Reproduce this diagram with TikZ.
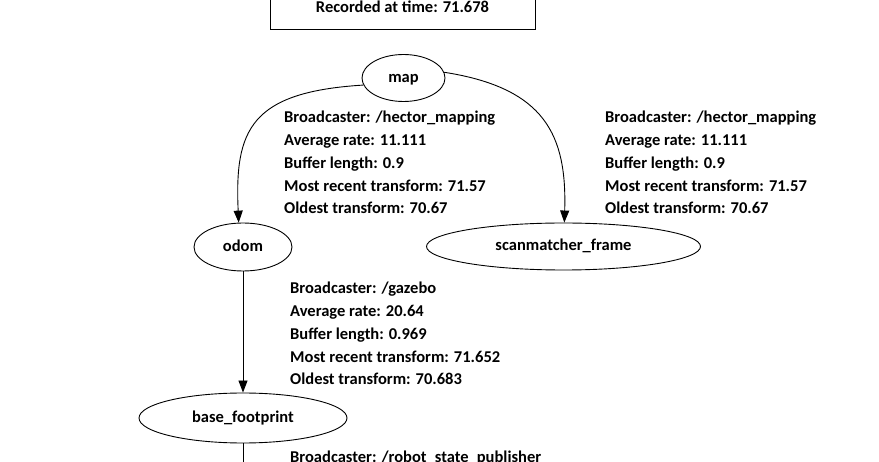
\documentclass[tikz,border=0pt]{standalone}
\usepackage{fontspec}
\setmainfont{Carlito}
\usetikzlibrary{shapes.geometric,arrows.meta}
\begin{document}
\begin{tikzpicture}[x=1pt,y=-1pt,
  frame/.style={ellipse,draw,line width=0.9pt,inner sep=0pt,text height=9pt,text depth=0pt,font=\fontsize{16.5}{19}\selectfont\bfseries},
  info/.style={anchor=north west,align=left,inner sep=0pt,font=\fontsize{16.5}{22.8}\selectfont\bfseries},
  tfedge/.style={line width=0.9pt,-{Triangle[length=12pt,width=9pt]}},
  plain/.style={line width=0.9pt}]
\useasboundingbox (0,0) rectangle (879,462);
\clip (0,0) rectangle (879,462);
\fill[white] (0,0) rectangle (879,462);
\node[draw,line width=0.9pt,minimum width=265pt,minimum height=46pt,anchor=south,inner sep=0pt,font=\fontsize{16.5}{19}\selectfont\bfseries] (rec) at (402.5,30) {Recorded at time: 71.678};
\node[frame,minimum width=83pt,minimum height=47pt] (map) at (403.5,78) {map};
\node[frame,minimum width=98pt,minimum height=48pt] (odom) at (243,247) {odom};
\node[frame,minimum width=274pt,minimum height=47pt] (scan) at (563.5,246.5) {scanmatcher\_frame};
\node[frame,minimum width=208pt,minimum height=50pt] (base) at (243,418) {base\_footprint};
\coordinate (down) at (243,470);
\draw[tfedge] (map.190) .. controls (250,92) and (234.5,130) .. (odom.100);
\draw[tfedge] (map.8) .. controls (545,88) and (567,135) .. (scan.88);
\draw[tfedge] (odom) -- (base);
\draw[plain] (base) -- (down);
\node[info] (l1) at (284,111) {Broadcaster: /hector\_mapping\\Average rate: 11.111\\Buffer length: 0.9\\Most recent transform: 71.57\\Oldest transform: 70.67};
\node[info] (l2) at (605,111) {Broadcaster: /hector\_mapping\\Average rate: 11.111\\Buffer length: 0.9\\Most recent transform: 71.57\\Oldest transform: 70.67};
\node[info] (l3) at (290,282) {Broadcaster: /gazebo\\Average rate: 20.64\\Buffer length: 0.969\\Most recent transform: 71.652\\Oldest transform: 70.683};
\node[info] (l4) at (290,451) {Broadcaster: /robot\_state\_publisher};
\end{tikzpicture}
\end{document}
